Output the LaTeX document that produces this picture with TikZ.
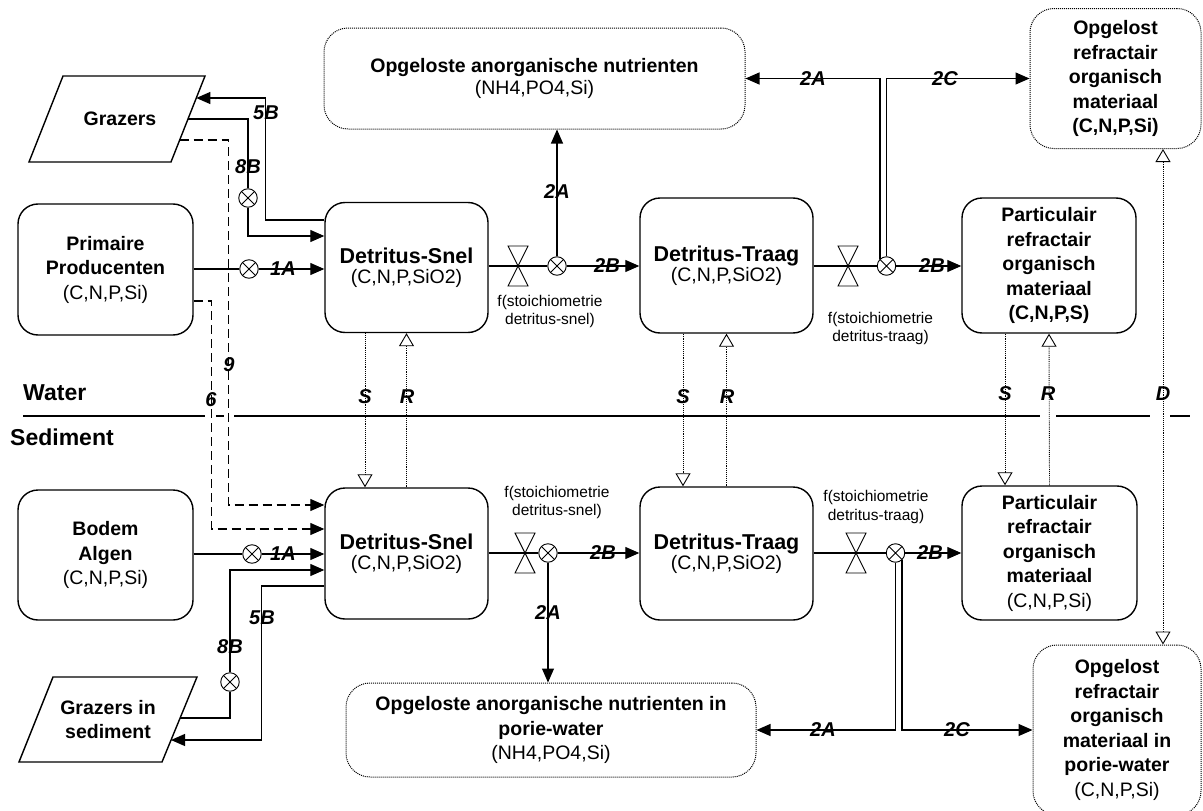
\documentclass[tikz,border=0pt]{standalone}
\usepackage{fontspec}
\setmainfont{Liberation Sans}
\usetikzlibrary{arrows.meta,calc}
\newcommand{\dettitle}[1]{{\fontsize{21.5}{24.5}\selectfont #1}}
\begin{document}
\begin{tikzpicture}[x=1pt,y=-1pt,
  box/.style={draw,line width=1.4pt,rounded corners=20pt,align=center,inner sep=0pt,
    font=\bfseries\fontsize{19.5}{24.5}\selectfont},
  dbox/.style={draw,densely dotted,line width=1pt,rounded corners=24pt,align=center,inner sep=0pt,
    font=\bfseries\fontsize{19.5}{24.5}\selectfont},
  pgram/.style={line width=1.4pt,line join=miter},
  ptext/.style={align=center,inner sep=0pt,font=\bfseries\fontsize{19.5}{24.5}\selectfont},
  plain/.style={line width=1.1pt},
  flow/.style={line width=1.1pt,-{Triangle[length=14pt,width=12pt]}},
  dflow/.style={flow,dash pattern=on 9pt off 5pt},
  sflow/.style={line width=0.9pt,densely dotted,-{Triangle[open,length=13pt,width=15pt,fill=white]}},
  dboth/.style={line width=0.9pt,densely dotted,
    {Triangle[open,length=13pt,width=15pt,fill=white]}-{Triangle[open,length=13pt,width=15pt,fill=white]}},
  lbl/.style={font=\bfseries\itshape\fontsize{20}{20}\selectfont,inner sep=0pt},
  note/.style={font=\fontsize{15.5}{18.5}\selectfont,align=center,inner sep=0pt},
  zone/.style={font=\bfseries\fontsize{23}{23}\selectfont,inner sep=0pt,anchor=west},
  mult/.style={circle,draw,fill=white,line width=0.9pt,minimum size=18.5pt,inner sep=0pt,
    path picture={\draw[line width=0.9pt]
      (path picture bounding box.north west) -- (path picture bounding box.south east)
      (path picture bounding box.north east) -- (path picture bounding box.south west);}},
  pics/valve/.style={code={\draw[line width=0.9pt,line join=miter]
      (-10,-20) -- (10,-20) -- (-10,20) -- (10,20) -- cycle;}}
]
\useasboundingbox (0,0) rectangle (1203,811);

% ---------- water column compartments ----------
\draw[pgram] (63,76) -- (205,76) -- (171,162) -- (29,162) -- cycle;
\node[ptext] (graz) at (120,119) {Grazers};
\coordinate (g5) at (196.3,98);
\coordinate (g8) at (188,119);
\coordinate (g9) at (179.7,140);

\node[box,minimum width=175pt,minimum height=131pt] (pp) at (105.5,269.5)
  {Primaire\\Producenten\\{\mdseries (C,N,P,Si)}};
\node[box,minimum width=163pt,minimum height=130pt] (ds) at (406.5,267.5)
  {\dettitle{Detritus-Snel}\\[-4.5pt]{\mdseries (C,N,P,SiO2)}};
\node[box,minimum width=173pt,minimum height=135pt] (dt) at (726.5,265.5)
  {\dettitle{Detritus-Traag}\\[-4.5pt]{\mdseries (C,N,P,SiO2)}};
\node[box,minimum width=174pt,minimum height=135pt] (pro) at (1049,265.5)
  {Particulair\\refractair\\organisch\\materiaal\\(C,N,P,S)};
\node[dbox,minimum width=421pt,minimum height=101pt] (opg) at (534.5,78.5)
  {Opgeloste anorganische nutrienten\\[-2.5pt]{\mdseries (NH4,PO4,Si)}};
\node[dbox,minimum width=171pt,minimum height=140pt] (oro) at (1115.5,78.5)
  {Opgelost\\refractair\\organisch\\materiaal\\(C,N,P,Si)};

% ---------- sediment compartments ----------
\draw[pgram] (53,677) -- (197,677) -- (162,762) -- (19,762) -- cycle;
\node[ptext] (grs) at (108,719.5) {Grazers in\\sediment};
\coordinate (gs8) at (180.1,718);
\coordinate (gs5) at (171,740);

\node[box,minimum width=175pt,minimum height=130pt] (ba) at (105.5,555)
  {Bodem\\Algen\\{\mdseries (C,N,P,Si)}};
\node[box,minimum width=163pt,minimum height=131pt] (dsb) at (406.5,553.5)
  {\dettitle{Detritus-Snel}\\[-4.5pt]{\mdseries (C,N,P,SiO2)}};
\node[box,minimum width=173pt,minimum height=133pt] (dtb) at (726.5,553.5)
  {\dettitle{Detritus-Traag}\\[-4.5pt]{\mdseries (C,N,P,SiO2)}};
\node[box,minimum width=175pt,minimum height=134pt] (prob) at (1049.5,553)
  {Particulair\\refractair\\organisch\\materiaal\\{\mdseries (C,N,P,Si)}};
\node[dbox,minimum width=410pt,minimum height=94pt] (pwb) at (551,730)
  {Opgeloste anorganische nutrienten in\\porie-water\\{\mdseries (NH4,PO4,Si)}};
\node[dbox,minimum width=168pt,minimum height=170pt] (orob) at (1117,730)
  {Opgelost\\refractair\\organisch\\materiaal in\\porie-water\\{\mdseries (C,N,P,Si)}};

% ---------- water / sediment boundary ----------
\draw[line width=1.3pt] (23,416) -- (205,416) (216,416) -- (224,416) (234,416) -- (1040,416)
  (1056,416) -- (1150,416) (1170,416) -- (1190,416);
\node[zone] (wat) at (23,393) {Water};
\node[zone] (sed) at (10,437) {Sediment};

% ---------- multipliers and valves ----------
\node[mult] (m1a) at (249,269) {};
\node[mult] (m8b) at (248,198) {};
\node[mult] (m2) at (557,266) {};
\node[mult] (m3) at (886.5,266) {};
\node[mult] (m1ab) at (252,554) {};
\node[mult] (m8bb) at (230,682) {};
\node[mult] (m4) at (548,553) {};
\node[mult] (m5) at (895.5,553) {};
\pic at (518,266) {valve};
\pic at (848,266) {valve};
\pic at (525,553) {valve};
\pic at (856,553) {valve};

% ---------- water column fluxes ----------
\draw[plain] (pp.east |- m1a) -- (m1a);
\draw[flow] (m1a) -- (ds.west |- m1a);
\draw[plain] (g8) -| (m8b);
\draw[flow] (m8b) |- ([yshift=31.5pt]ds.west);
\draw[flow] ([yshift=47.5pt]ds.west) -- ++(-59,0) |- (g5);
\draw[dflow] (g9) -- ++(49,0) |- ([yshift=48.5pt]dsb.west);
\draw[dflow] ([yshift=-31.5pt]pp.east) -- ++(18,0) |- ([yshift=24.5pt]dsb.west);

\draw[plain] (ds.east |- m2) -- (m2);
\draw[flow] (m2) -- (dt.west |- m2);
\draw[flow] (m2) -- (opg.south -| m2);
\draw[plain] (dt.east |- m3) -- (m3);
\draw[flow] (m3) -- (pro.west |- m3);
\draw[flow] ([xshift=-6.5pt,yshift=6.6pt]m3.center) |- (opg.east);
\draw[flow] (m3.north) |- (oro.west);

% ---------- sedimentation, resuspension, diffusion ----------
\draw[sflow] ([xshift=-41.5pt]ds.south) -- ([xshift=-41.5pt]dsb.north);
\draw[sflow] (dsb.north) -- (ds.south);
\draw[sflow] ([xshift=-43.5pt]dt.south) -- ([xshift=-43.5pt]dtb.north);
\draw[sflow] (dtb.north) -- (dt.south);
\draw[sflow] ([xshift=-44pt]pro.south) -- ([xshift=-44.5pt]prob.north);
\draw[sflow] (prob.north) -- (pro.south);
\draw[dboth] ([xshift=47.5pt]oro.south) -- ([xshift=46pt]orob.north);

% ---------- sediment fluxes ----------
\draw[plain] (ba.east |- m1ab) -- (m1ab);
\draw[flow] (m1ab) -- (dsb.west |- m1ab);
\draw[plain] (gs8) -| (m8bb);
\draw[flow] (m8bb) |- ([yshift=-16.5pt]dsb.west);
\draw[flow] ([yshift=-32.5pt]dsb.west) -- ++(-63,0) |- (gs5);

\draw[plain] (dsb.east |- m4) -- (m4);
\draw[flow] (m4) -- (dtb.west |- m4);
\draw[flow] (m4) -- (pwb.north -| m4);
\draw[plain] (dtb.east |- m5) -- (m5);
\draw[flow] (m5) -- (prob.west |- m5);
\draw[flow] (m5.south) |- (pwb.east);
\draw[flow] ([xshift=6.5pt,yshift=-6.6pt]m5.center) |- (orob.west);

% ---------- stoichiometry notes ----------
\node[note] (f1) at (550,311.5) {f(stoichiometrie\\detritus-snel)};
\node[note] (f2) at (880.5,328.5) {f(stoichiometrie\\detritus-traag)};
\node[note] (f3) at (557,502.5) {f(stoichiometrie\\detritus-snel)};
\node[note] (f4) at (876,507) {f(stoichiometrie\\detritus-traag)};

% ---------- flux labels ----------
\node[lbl] at (283,269) {1A};
\node[lbl] at (248,167) {8B};
\node[lbl] at (266,113) {5B};
\node[lbl] at (229,365) {9};
\node[lbl] at (211,400) {6};
\node[lbl] at (557,192) {2A};
\node[lbl] at (607,266) {2B};
\node[lbl] at (932,266) {2B};
\node[lbl] at (813,79) {2A};
\node[lbl] at (945,79) {2C};
\node[lbl] at (365,397) {S};
\node[lbl] at (407,397) {R};
\node[lbl] at (683,397) {S};
\node[lbl] at (727,397) {R};
\node[lbl] at (1005,394) {S};
\node[lbl] at (1048,394) {R};
\node[lbl] at (1163,394) {D};
\node[lbl] at (283,554) {1A};
\node[lbl] at (230,647) {8B};
\node[lbl] at (262,618) {5B};
\node[lbl] at (603,553) {2B};
\node[lbl] at (548,613) {2A};
\node[lbl] at (930,553) {2B};
\node[lbl] at (823,730) {2A};
\node[lbl] at (957,730) {2C};
\end{tikzpicture}
\end{document}
